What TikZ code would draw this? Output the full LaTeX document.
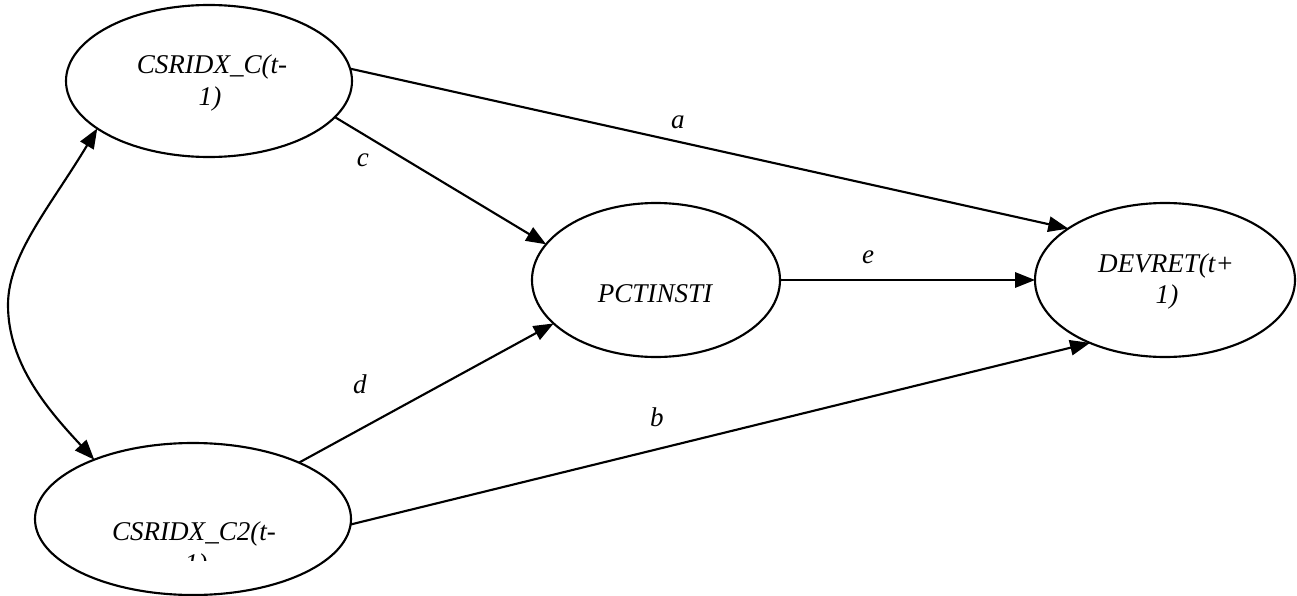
\documentclass[tikz,border=0pt]{standalone}
\usepackage{fontspec}
\setmainfont{Liberation Serif}
\usetikzlibrary{arrows.meta,shapes.geometric}
\begin{document}
\begin{tikzpicture}[x=0.75pt,y=-0.75pt,
  var/.style={draw,ellipse,line width=1.6pt,inner sep=0pt,outer sep=0pt},
  txt/.style={anchor=base,inner sep=0pt,font=\fontsize{20.3}{24}\selectfont\itshape},
  lbl/.style={anchor=base,inner sep=0pt,font=\fontsize{20.3}{24}\selectfont\itshape},
  tip/.tip={Triangle[length=15pt,width=11.5pt]},
  conn/.style={line width=1.6pt,-tip},
  dconn/.style={line width=1.6pt,tip-tip}]
\useasboundingbox (0,0) rectangle (1297,596);
% ellipses
\node[var,minimum width=214.5pt,minimum height=114pt] (tl) at (209,81) {};
\node[var,minimum width=237pt,minimum height=114pt] (bl) at (193,519) {};
\node[var,minimum width=186pt,minimum height=115.5pt] (pct) at (656,280) {};
\node[var,minimum width=195pt,minimum height=115.5pt] (dev) at (1165,280) {};
% texts
\node[txt] (tlA) at (212,73) {CSRIDX\_C(t-};
\node[txt] (tlB) at (210,105) {1)};
\node[txt] (pctA) at (655,302) {PCTINSTI};
\node[txt] (devA) at (1166,272) {DEVRET(t+};
\node[txt] (devB) at (1167,303) {1)};
\node[txt] (blA) at (194,540) {CSRIDX\_C2(t-};
\begin{scope}
\clip (0,0) rectangle (1297,560);
\node[txt] (blB) at (196,572) {1)};
\end{scope}
% connectors
\coordinate (bend) at (8,305);
\draw[conn] (tl.5) -- (dev.152);
\draw[conn] (tl.-16) -- (pct.162);
\draw[conn] (pct.east) -- (dev.west);
\draw[conn] (bl.28) -- (pct.203.4);
\draw[conn] (bl.-2) -- (dev.220.5);
\draw[dconn] (tl.-157) .. controls (50,207) and (8,255) .. (bend)
  .. controls (8,365) and (50,412) .. (bl.149.5);
% labels
\node[lbl] (la) at (678,128) {a};
\node[lbl] (lc) at (363,166) {c};
\node[lbl] (le) at (868,263) {e};
\node[lbl] (ld) at (360,393) {d};
\node[lbl] (lb) at (657,426) {b};
\end{tikzpicture}
\end{document}
